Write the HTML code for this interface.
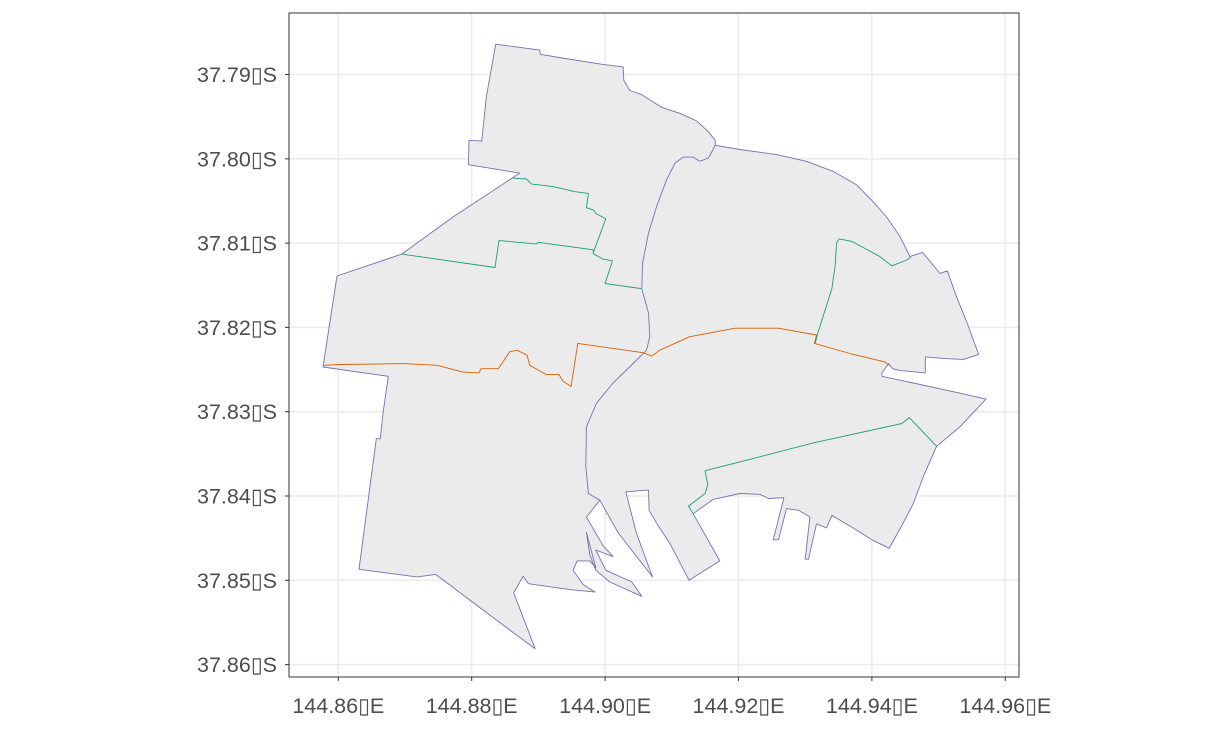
<!DOCTYPE html>
<html><head><meta charset="utf-8"><style>
html,body{margin:0;padding:0;background:#fff;}
svg{display:block;font-family:"Liberation Sans","DejaVu Sans",sans-serif;}
</style></head>
<body>
<svg id="chart" width="1209" height="729" viewBox="0 0 1209 729" xmlns="http://www.w3.org/2000/svg">
<rect x="0" y="0" width="1209" height="729" fill="#fff"/>
<rect x="289" y="13" width="730" height="664" fill="#fff"/>
<g id="grid"></g>
<g id="shapes"></g>
<rect x="289" y="13" width="730" height="664" fill="none" stroke="#333" stroke-width="1"/>
<g id="axes"></g>
</svg>
<script>
const xTicks = [144.86, 144.88, 144.90, 144.92, 144.94, 144.96];
const xTickLabels = ["144.86\u25AFE","144.88\u25AFE","144.90\u25AFE","144.92\u25AFE","144.94\u25AFE","144.96\u25AFE"];
const yTicks = [37.79, 37.80, 37.81, 37.82, 37.83, 37.84, 37.85, 37.86];
const yTickLabels = ["37.79\u25AFS","37.80\u25AFS","37.81\u25AFS","37.82\u25AFS","37.83\u25AFS","37.84\u25AFS","37.85\u25AFS","37.86\u25AFS"];

const outerLon = [144.8836,144.8902,144.8903,144.8940,144.8997,144.9027,144.9028,144.9037,144.9055,144.9085,144.9112,144.9137,144.9155,144.9165,144.9165,144.9202,144.9257,144.9302,144.9342,144.9377,144.9402,144.9422,144.9442,144.9457,144.9476,144.9502,144.9513,144.9527,144.9542,144.9560,144.9537,144.9510,144.9480,144.9480,144.9442,144.9431,144.9425,144.9415,144.9415,144.9462,144.9532,144.9571,144.9532,144.9497,144.9477,144.9462,144.9447,144.9426,144.9400,144.9372,144.9340,144.9332,144.9317,144.9305,144.9300,144.9307,144.9290,144.9272,144.9260,144.9252,144.9268,144.9245,144.9232,144.9202,144.9162,144.9132,144.9172,144.9126,144.9097,144.9080,144.9066,144.9065,144.9031,144.9047,144.9071,144.9020,144.8992,144.8972,144.8997,144.9012,144.8986,144.9001,144.9040,144.9055,144.9007,144.8986,144.8977,144.8972,144.8986,144.8977,144.8958,144.8952,144.8967,144.8985,144.8947,144.8885,144.8877,144.8863,144.8895,144.8857,144.8793,144.8746,144.8718,144.8631,144.8657,144.8663,144.8667,144.8675,144.8577,144.8598,144.8695,144.8772,144.8872,144.8795,144.8796,144.8815,144.8822];
const outerLat = [37.7864,37.7871,37.7876,37.7881,37.7888,37.7891,37.7907,37.7919,37.7924,37.7939,37.7946,37.7955,37.7968,37.7978,37.7984,37.7989,37.7995,37.8003,37.8015,37.8031,37.8051,37.8069,37.8092,37.8116,37.8111,37.8136,37.8133,37.8164,37.8193,37.8232,37.8238,37.8237,37.8235,37.8254,37.8251,37.8249,37.8243,37.8254,37.8258,37.8266,37.8278,37.8285,37.8318,37.8341,37.8377,37.8409,37.8432,37.8462,37.8452,37.8438,37.8423,37.8438,37.8433,37.8475,37.8475,37.8425,37.8417,37.8415,37.8452,37.8452,37.8402,37.8403,37.8398,37.8397,37.8404,37.8421,37.8477,37.8500,37.8456,37.8436,37.8417,37.8393,37.8395,37.8444,37.8496,37.8444,37.8405,37.8425,37.8459,37.8472,37.8464,37.8488,37.8502,37.8519,37.8502,37.8488,37.8470,37.8443,37.8485,37.8477,37.8477,37.8488,37.8505,37.8514,37.8511,37.8504,37.8495,37.8515,37.8581,37.8559,37.8521,37.8493,37.8496,37.8487,37.8332,37.8332,37.8302,37.8258,37.8247,37.8139,37.8113,37.8069,37.8017,37.8007,37.7978,37.7979,37.7926];

const innerBlueLon = [144.9165,144.9155,144.9142,144.9132,144.9117,144.9105,144.9092,144.9077,144.9065,144.9056,144.9055,144.9065,144.9067,144.9062,144.9047,144.9012,144.8987,144.8972,144.8971,144.8975,144.8992];
const innerBlueLat = [37.7984,37.7999,37.8003,37.7998,37.7998,37.8005,37.8025,37.8057,37.8088,37.8124,37.8154,37.8183,37.8211,37.8227,37.8239,37.8266,37.8290,37.8318,37.8365,37.8397,37.8405];

const greenNLon = [144.8862,144.8882,144.8890,144.8922,144.8955,144.8975,144.8972,144.8983,144.8986,144.9001,144.8982];
const greenNLat = [37.8023,37.8024,37.8030,37.8033,37.8039,37.8041,37.8058,37.8061,37.8065,37.8071,37.8112];

const greenWLon = [144.8695,144.8835,144.8841,144.8897,144.8900,144.8982,144.8983,144.8997,144.9011,144.9000,144.9054];
const greenWLat = [37.8113,37.8129,37.8097,37.8101,37.8099,37.8108,37.8113,37.8119,37.8121,37.8148,37.8154];

const orangeLon = [144.8577,144.8603,144.8697,144.8748,144.8787,144.8811,144.8814,144.8840,144.8857,144.8868,144.8883,144.8887,144.8912,144.8931,144.8937,144.8949,144.8959,144.9057,144.9070,144.9082,144.9127,144.9195,144.9260,144.9317,144.9314,144.9367,144.9420,144.9425];
const orangeLat = [37.8245,37.8244,37.8243,37.8245,37.8253,37.8254,37.8249,37.8249,37.8229,37.8227,37.8233,37.8245,37.8256,37.8256,37.8264,37.8270,37.8219,37.8230,37.8234,37.8227,37.8211,37.8201,37.8201,37.8209,37.8219,37.8231,37.8241,37.8245];

const greenNELon = [144.9315,144.9318,144.9340,144.9345,144.9347,144.9351,144.9370,144.9412,144.9430,144.9452,144.9458];
const greenNELat = [37.8219,37.8209,37.8154,37.8126,37.8100,37.8095,37.8098,37.8116,37.8127,37.8120,37.8117];

const greenSELon = [144.9497,144.9456,144.9445,144.9312,144.9205,144.9150,144.9154,144.9150,144.9125,144.9132];
const greenSELat = [37.8341,37.8307,37.8314,37.8337,37.8359,37.8370,37.8387,37.8397,37.8412,37.8421];

const NS = "http://www.w3.org/2000/svg";
function xs(lon){ return 338.3 + (lon - 144.86) * 6670; }
function ys(lat){ return 74.5 + (lat - 37.79) * 8430; }
function mk(tag, attrs, parent){
  const e = document.createElementNS(NS, tag);
  for (const k in attrs) e.setAttribute(k, attrs[k]);
  parent.appendChild(e);
  return e;
}
function pts(lons, lats){ return lons.map((v,i)=>xs(v).toFixed(1)+","+ys(lats[i]).toFixed(1)).join(" "); }

const grid = document.getElementById("grid");
const axes = document.getElementById("axes");
xTicks.forEach((t,i)=>{
  const x = xs(t);
  const g = mk("line",{x1:x,x2:x,y1:13,y2:677,stroke:"#ebebeb","stroke-width":1.6},grid);
  
  
  const tk = mk("line",{x1:x,x2:x,y1:677,y2:681,stroke:"#333","stroke-width":1},axes);
  
  
  const tx = mk("text",{x:x,y:713,"text-anchor":"middle","font-size":"21.5",fill:"#4d4d4d"},axes);
  tx.textContent = xTickLabels[i];
  
  
});
yTicks.forEach((t,i)=>{
  const y = ys(t);
  const g = mk("line",{x1:289,x2:1019,y1:y,y2:y,stroke:"#ebebeb","stroke-width":1.6},grid);
  
  
  const tk = mk("line",{x1:285,x2:289,y1:y,y2:y,stroke:"#333","stroke-width":1},axes);
  
  
  const tx = mk("text",{x:277,y:y+7.5,"text-anchor":"end","font-size":"21.5",fill:"#4d4d4d"},axes);
  tx.textContent = yTickLabels[i];
  
  
});

const shapes = document.getElementById("shapes");
const outer = mk("polygon",{points:pts(outerLon,outerLat),fill:"#ebebeb",stroke:"#7570b3","stroke-width":0.9,"stroke-linejoin":"round"},shapes);



const lines = [
  [innerBlueLon, innerBlueLat, "#7570b3", "inner-boundary-blue"],
  [greenNLon, greenNLat, "#1b9e77", "boundary-green-north"],
  [greenWLon, greenWLat, "#1b9e77", "boundary-green-west"],
  [orangeLon, orangeLat, "#d95f02", "boundary-orange"],
  [greenNELon, greenNELat, "#1b9e77", "boundary-green-northeast"],
  [greenSELon, greenSELat, "#1b9e77", "boundary-green-southeast"]
];
lines.forEach(l=>{
  const p = mk("polyline",{points:pts(l[0],l[1]),fill:"none",stroke:l[2],"stroke-width":0.9,"stroke-linejoin":"round"},shapes);
  
  
});
</script>
</body></html>
